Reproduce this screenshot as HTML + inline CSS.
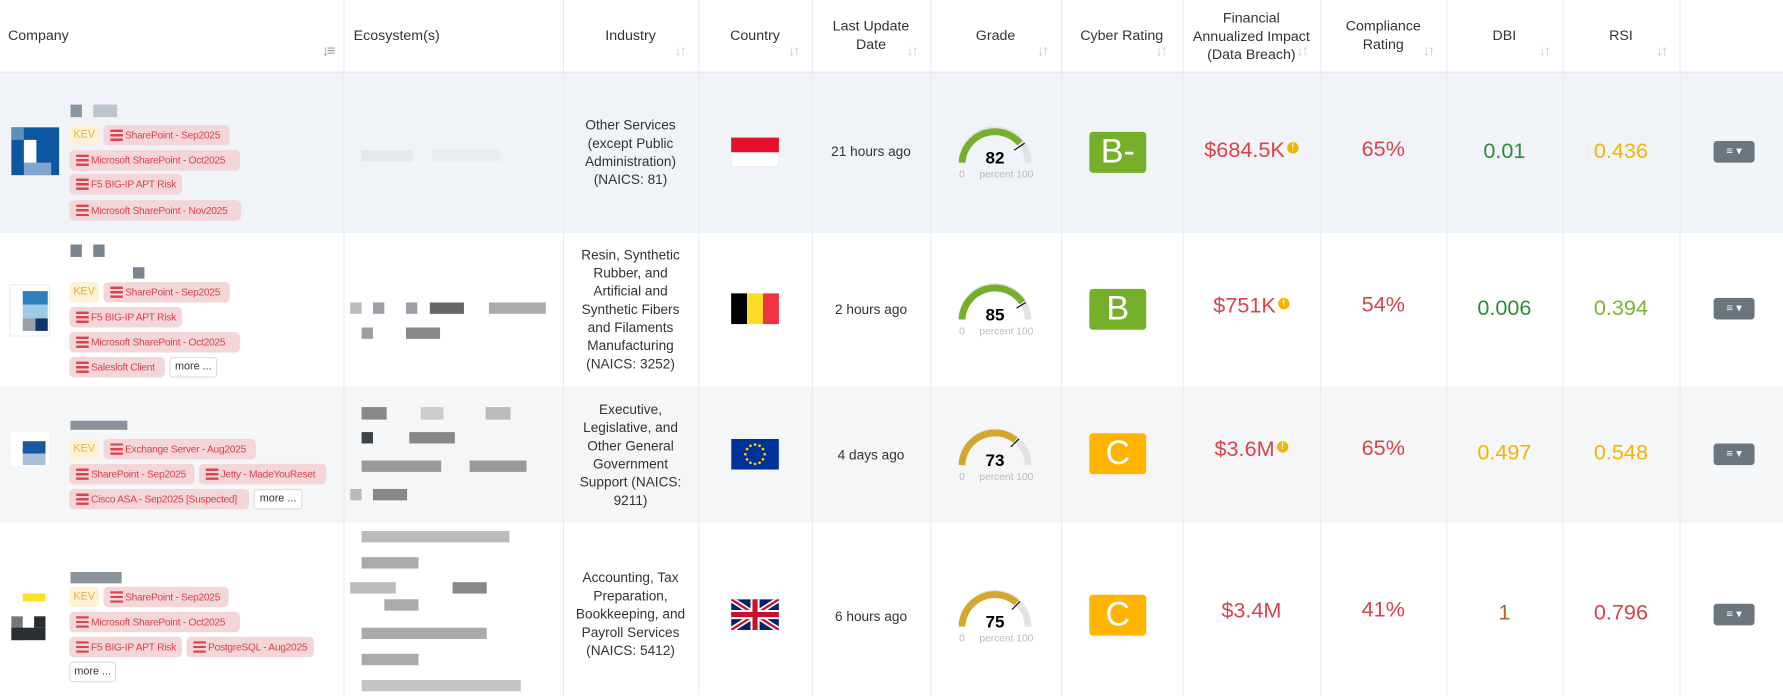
<!DOCTYPE html>
<html><head><meta charset="utf-8"><style>
*{margin:0;padding:0;box-sizing:border-box}
html,body{width:1783px;height:695px;overflow:hidden;background:#fff;font-family:"Liberation Sans",sans-serif}
#w{position:absolute;left:0;top:0;width:1568px;height:612px;transform:scale(1.1371);transform-origin:0 0}
.a{position:absolute}
.row{position:absolute;left:0;width:1568px}
.vl{position:absolute;top:0;width:1px;height:612px;background:#e9ecef}
.h{position:absolute;font-size:12.5px;color:#333;text-align:center;line-height:16px}
.s{position:absolute;font-size:13px;color:#ccc;letter-spacing:-2px}
.t{position:absolute;height:18px;line-height:18px;font-size:9px;letter-spacing:-0.25px;color:#d9434b;background:#f3d6d8;border-radius:4px;padding-left:19px;white-space:nowrap;overflow:hidden}
.t:before{content:"";position:absolute;left:6px;top:4px;width:11px;height:10px;background:linear-gradient(#d9434b 0 2px,transparent 2px 4px,#d9434b 4px 6px,transparent 6px 8px,#d9434b 8px 10px)}
.k{position:absolute;height:18px;line-height:18px;font-size:9.5px;color:#e3b34a;background:#fdf1d6;border-radius:4px;width:26px;text-align:center}
.m{position:absolute;height:18px;line-height:16px;font-size:9.5px;color:#333;background:#fff;border:1px solid #ddd;border-radius:3px;text-align:center}
.c{position:absolute;text-align:center;font-size:12px;color:#333;line-height:16px}
.v{position:absolute;text-align:center;font-size:19px;line-height:22px}
.g{position:absolute;width:50px;height:36px;border-radius:3px;color:#fff;font-size:30px;line-height:36px;text-align:center}
.btn{position:absolute;left:1507px;width:36px;height:19px;background:#6c757d;border-radius:3px;color:#fff;font-size:10px;line-height:19px;text-align:center}
.px{position:absolute;background:#9aa0a6}
.ex{display:inline-block;width:10px;height:10px;border-radius:50%;background:#f5b400;color:#fff;font-size:8px;line-height:10px;text-align:center;vertical-align:6px;font-weight:bold;margin-left:2px}
</style></head><body><div id="w">
<div class="row" style="top:63px;height:142px;background:#f0f3f7"></div>
<div class="row" style="top:340px;height:120px;background:#f4f6f8"></div>
<div class="row" style="top:63px;height:1px;background:#e5e8eb"></div>
<div class="vl" style="left:302px"></div><div class="vl" style="left:495px"></div><div class="vl" style="left:614px"></div><div class="vl" style="left:714px"></div><div class="vl" style="left:818px"></div><div class="vl" style="left:933px"></div><div class="vl" style="left:1040px"></div><div class="vl" style="left:1161px"></div><div class="vl" style="left:1272px"></div><div class="vl" style="left:1374px"></div><div class="vl" style="left:1477px"></div>

<div class="h" style="left:7px;top:23px;text-align:left">Company</div><div class="s" style="left:283px;top:37px;color:#999">↓≡</div>
<div class="h" style="left:311px;top:23px;text-align:left">Ecosystem(s)</div>
<div class="h" style="left:495px;width:119px;top:23px">Industry</div><div class="s" style="left:593px;top:37px">↓↑</div>
<div class="h" style="left:614px;width:100px;top:23px">Country</div><div class="s" style="left:693px;top:37px">↓↑</div>
<div class="h" style="left:714px;width:104px;top:15px">Last Update<br>Date</div><div class="s" style="left:797px;top:37px">↓↑</div>
<div class="h" style="left:818px;width:115px;top:23px">Grade</div><div class="s" style="left:912px;top:37px">↓↑</div>
<div class="h" style="left:933px;width:107px;top:23px">Cyber Rating</div><div class="s" style="left:1016px;top:37px">↓↑</div>
<div class="h" style="left:1040px;width:121px;top:8px">Financial<br>Annualized Impact<br>(Data Breach)</div><div class="s" style="left:1140px;top:37px">↓↑</div>
<div class="h" style="left:1161px;width:111px;top:15px">Compliance<br>Rating</div><div class="s" style="left:1251px;top:37px">↓↑</div>
<div class="h" style="left:1272px;width:102px;top:23px">DBI</div><div class="s" style="left:1353px;top:37px">↓↑</div>
<div class="h" style="left:1374px;width:103px;top:23px">RSI</div><div class="s" style="left:1456px;top:37px">↓↑</div>

<!-- row1 -->
<div class="px" style="left:62px;top:92px;width:10px;height:11px;background:#8a97a3"></div><div class="px" style="left:82px;top:92px;width:21px;height:11px;background:#bcc4cc"></div>
<div class="a" style="left:10px;top:112px;width:42px;height:42px;background:#0b58a0"></div><div class="a" style="left:21px;top:123px;width:11px;height:22px;background:#fff"></div><div class="a" style="left:10px;top:112px;width:11px;height:11px;background:#5d8fbf"></div><div class="a" style="left:21px;top:143px;width:24px;height:11px;background:#7fa6cf"></div>
<div class="k" style="left:61px;top:110px">KEV</div><div class="t" style="left:91px;top:110px;width:111px">SharePoint - Sep2025</div>
<div class="t" style="left:61px;top:132px;width:150px">Microsoft SharePoint - Oct2025</div>
<div class="t" style="left:61px;top:153px;width:99px">F5 BIG-IP APT Risk</div>
<div class="t" style="left:61px;top:176px;width:151px">Microsoft SharePoint - Nov2025</div>
<div class="px" style="left:318px;top:132px;width:45px;height:10px;background:#e6e8eb"></div><div class="px" style="left:380px;top:132px;width:60px;height:10px;background:#eaecee"></div>
<div class="c" style="left:495px;width:119px;top:102px">Other Services<br>(except Public<br>Administration)<br>(NAICS: 81)</div>
<div class="a" style="left:643px;top:121px;width:42px;height:13px;background:#e8112d"></div><div class="a" style="left:643px;top:134px;width:42px;height:13px;background:#fff;border:1px solid #eee"></div>
<div class="c" style="left:714px;width:104px;top:125px">21 hours ago</div>
<svg class="a" style="left:840px;top:110px" width="70" height="50"><path d="M6 33 A29 29 0 0 1 64 33" fill="none" stroke="#e3e3e3" stroke-width="6"/><path d="M6 33 A29 29 0 0 1 57 16" fill="none" stroke="#76b02a" stroke-width="6"/><line x1="52" y1="22" x2="61" y2="16" stroke="#000"/><text x="35" y="34" text-anchor="middle" font-size="15" font-weight="bold" font-family="Liberation Sans">82</text><text x="6" y="46" font-size="9" fill="#bbb" font-family="Liberation Sans" text-anchor="middle">0</text><text x="45" y="46" font-size="9" fill="#bbb" font-family="Liberation Sans" text-anchor="middle">percent 100</text></svg>
<div class="g" style="left:958px;top:116px;background:#76b02a">B-</div>
<div class="v" style="left:1040px;width:121px;top:122px;color:#d9434b">$684.5K<span class="ex">!</span></div>
<div class="v" style="left:1161px;width:111px;top:121px;color:#d9434b">65%</div>
<div class="v" style="left:1272px;width:102px;top:123px;color:#2e8b3a">0.01</div>
<div class="v" style="left:1374px;width:103px;top:123px;color:#f5b400">0.436</div>
<div class="btn" style="top:124px">≡ ▾</div>

<!-- row2 -->
<div class="px" style="left:62px;top:215px;width:10px;height:11px;background:#7a8590"></div><div class="px" style="left:82px;top:215px;width:10px;height:11px;background:#7a8590"></div><div class="px" style="left:117px;top:235px;width:10px;height:10px;background:#7a8590"></div>
<div class="a" style="left:8px;top:250px;width:36px;height:46px;border:1px solid #eee"></div><div class="a" style="left:20px;top:256px;width:22px;height:12px;background:#2f7fbf"></div><div class="a" style="left:20px;top:268px;width:22px;height:12px;background:#9ccbe3"></div><div class="a" style="left:31px;top:280px;width:11px;height:11px;background:#0b3666"></div><div class="a" style="left:20px;top:280px;width:11px;height:11px;background:#9aa0a6"></div>
<div class="k" style="left:61px;top:248px">KEV</div><div class="t" style="left:91px;top:248px;width:111px">SharePoint - Sep2025</div>
<div class="t" style="left:61px;top:270px;width:99px">F5 BIG-IP APT Risk</div>
<div class="t" style="left:61px;top:292px;width:150px">Microsoft SharePoint - Oct2025</div>
<div class="t" style="left:61px;top:314px;width:84px">Salesloft Client</div><div class="m" style="left:149px;top:314px;width:42px">more ...</div>
<div class="px" style="left:308px;top:266px;width:10px;height:10px;background:#bbb"></div><div class="px" style="left:328px;top:266px;width:10px;height:10px"></div><div class="px" style="left:357px;top:266px;width:10px;height:10px"></div><div class="px" style="left:378px;top:266px;width:30px;height:10px;background:#666"></div><div class="px" style="left:430px;top:266px;width:50px;height:10px;background:#aaa"></div><div class="px" style="left:318px;top:288px;width:10px;height:10px"></div><div class="px" style="left:357px;top:288px;width:30px;height:10px;background:#888"></div>
<div class="c" style="left:495px;width:119px;top:216px">Resin, Synthetic<br>Rubber, and<br>Artificial and<br>Synthetic Fibers<br>and Filaments<br>Manufacturing<br>(NAICS: 3252)</div>
<div class="a" style="left:643px;top:258px;width:14px;height:27px;background:#000"></div><div class="a" style="left:657px;top:258px;width:14px;height:27px;background:#fdda24"></div><div class="a" style="left:671px;top:258px;width:14px;height:27px;background:#ef3340"></div>
<div class="c" style="left:714px;width:104px;top:264px">2 hours ago</div>
<svg class="a" style="left:840px;top:248px" width="70" height="50"><path d="M6 33 A29 29 0 0 1 64 33" fill="none" stroke="#e3e3e3" stroke-width="6"/><path d="M6 33 A29 29 0 0 1 59 18" fill="none" stroke="#76b02a" stroke-width="6"/><line x1="54" y1="23" x2="62" y2="18" stroke="#000"/><text x="35" y="34" text-anchor="middle" font-size="15" font-weight="bold" font-family="Liberation Sans">85</text><text x="6" y="46" font-size="9" fill="#bbb" text-anchor="middle" font-family="Liberation Sans">0</text><text x="45" y="46" font-size="9" fill="#bbb" text-anchor="middle" font-family="Liberation Sans">percent 100</text></svg>
<div class="g" style="left:958px;top:254px;background:#76b02a">B</div>
<div class="v" style="left:1040px;width:121px;top:259px;color:#d9434b">$751K<span class="ex">!</span></div>
<div class="v" style="left:1161px;width:111px;top:258px;color:#d9434b">54%</div>
<div class="v" style="left:1272px;width:102px;top:261px;color:#2e8b3a">0.006</div>
<div class="v" style="left:1374px;width:103px;top:261px;color:#79b530">0.394</div>
<div class="btn" style="top:262px">≡ ▾</div>

<!-- row3 -->
<div class="px" style="left:62px;top:370px;width:50px;height:8px;background:#8a939c"></div>
<div class="a" style="left:10px;top:380px;width:33px;height:30px;background:#fff"></div><div class="a" style="left:20px;top:388px;width:20px;height:11px;background:#16599e"></div><div class="a" style="left:20px;top:399px;width:20px;height:10px;background:#a9bfd9"></div>
<div class="k" style="left:61px;top:386px">KEV</div><div class="t" style="left:91px;top:386px;width:134px">Exchange Server - Aug2025</div>
<div class="t" style="left:61px;top:408px;width:110px">SharePoint - Sep2025</div><div class="t" style="left:175px;top:408px;width:112px">Jetty - MadeYouReset</div>
<div class="t" style="left:61px;top:430px;width:158px">Cisco ASA - Sep2025 [Suspected]</div><div class="m" style="left:223px;top:430px;width:43px">more ...</div>
<div class="px" style="left:318px;top:358px;width:22px;height:11px;background:#888"></div><div class="px" style="left:370px;top:358px;width:20px;height:11px;background:#ccc"></div><div class="px" style="left:427px;top:358px;width:22px;height:11px;background:#bbb"></div><div class="px" style="left:318px;top:380px;width:10px;height:10px;background:#3d4249"></div><div class="px" style="left:360px;top:380px;width:40px;height:10px;background:#888"></div><div class="px" style="left:318px;top:405px;width:70px;height:10px;background:#999"></div><div class="px" style="left:413px;top:405px;width:50px;height:10px;background:#999"></div><div class="px" style="left:308px;top:430px;width:10px;height:10px;background:#bbb"></div><div class="px" style="left:328px;top:430px;width:30px;height:10px;background:#888"></div>
<div class="c" style="left:495px;width:119px;top:352px">Executive,<br>Legislative, and<br>Other General<br>Government<br>Support (NAICS:<br>9211)</div>
<svg class="a" style="left:643px;top:386px" width="42" height="27"><rect width="42" height="27" fill="#039"/><g fill="#fc0"><circle cx="21" cy="5" r="1.2"/><circle cx="21" cy="22" r="1.2"/><circle cx="12.5" cy="13.5" r="1.2"/><circle cx="29.5" cy="13.5" r="1.2"/><circle cx="25" cy="6" r="1.2"/><circle cx="17" cy="6" r="1.2"/><circle cx="25" cy="21" r="1.2"/><circle cx="17" cy="21" r="1.2"/><circle cx="14" cy="9" r="1.2"/><circle cx="28" cy="9" r="1.2"/><circle cx="14" cy="18" r="1.2"/><circle cx="28" cy="18" r="1.2"/></g></svg>
<div class="c" style="left:714px;width:104px;top:392px">4 days ago</div>
<svg class="a" style="left:840px;top:376px" width="70" height="50"><path d="M6 33 A29 29 0 0 1 64 33" fill="none" stroke="#e3e3e3" stroke-width="6"/><path d="M6 33 A29 29 0 0 1 53 11" fill="none" stroke="#d4a72c" stroke-width="6"/><line x1="49" y1="17" x2="56" y2="10" stroke="#000"/><text x="35" y="34" text-anchor="middle" font-size="15" font-weight="bold" font-family="Liberation Sans">73</text><text x="6" y="46" font-size="9" fill="#bbb" text-anchor="middle" font-family="Liberation Sans">0</text><text x="45" y="46" font-size="9" fill="#bbb" text-anchor="middle" font-family="Liberation Sans">percent 100</text></svg>
<div class="g" style="left:958px;top:381px;background:#ffb400">C</div>
<div class="v" style="left:1040px;width:121px;top:385px;color:#d9434b">$3.6M<span class="ex">!</span></div>
<div class="v" style="left:1161px;width:111px;top:384px;color:#d9434b">65%</div>
<div class="v" style="left:1272px;width:102px;top:388px;color:#f5b400">0.497</div>
<div class="v" style="left:1374px;width:103px;top:388px;color:#f5b400">0.548</div>
<div class="btn" style="top:390px">≡ ▾</div>

<!-- row4 -->
<div class="px" style="left:62px;top:503px;width:45px;height:10px;background:#8a939c"></div>
<div class="a" style="left:20px;top:522px;width:20px;height:7px;background:#fbe122"></div><div class="a" style="left:10px;top:542px;width:10px;height:21px;background:#777"></div><div class="a" style="left:10px;top:552px;width:30px;height:11px;background:#2a2d31"></div><div class="a" style="left:30px;top:542px;width:10px;height:10px;background:#2a2d31"></div>
<div class="k" style="left:61px;top:516px">KEV</div><div class="t" style="left:91px;top:516px;width:110px">SharePoint - Sep2025</div>
<div class="t" style="left:61px;top:538px;width:150px">Microsoft SharePoint - Oct2025</div>
<div class="t" style="left:61px;top:560px;width:99px">F5 BIG-IP APT Risk</div><div class="t" style="left:164px;top:560px;width:112px">PostgreSQL - Aug2025</div>
<div class="m" style="left:61px;top:582px;width:41px">more ...</div>
<div class="px" style="left:318px;top:467px;width:130px;height:10px;background:#bbb"></div><div class="px" style="left:318px;top:490px;width:50px;height:10px;background:#aaa"></div><div class="px" style="left:308px;top:512px;width:40px;height:10px;background:#bbb"></div><div class="px" style="left:398px;top:512px;width:30px;height:10px;background:#888"></div><div class="px" style="left:338px;top:527px;width:30px;height:10px;background:#aaa"></div><div class="px" style="left:318px;top:552px;width:110px;height:10px;background:#aaa"></div><div class="px" style="left:318px;top:575px;width:50px;height:10px;background:#aaa"></div><div class="px" style="left:318px;top:598px;width:140px;height:10px;background:#c4c4c4"></div>
<div class="c" style="left:495px;width:119px;top:500px">Accounting, Tax<br>Preparation,<br>Bookkeeping, and<br>Payroll Services<br>(NAICS: 5412)</div>
<svg class="a" style="left:643px;top:527px" width="42" height="27"><rect width="42" height="27" fill="#012169"/><path d="M0 0L42 27M42 0L0 27" stroke="#fff" stroke-width="5"/><path d="M0 0L42 27M42 0L0 27" stroke="#c8102e" stroke-width="2"/><path d="M21 0V27M0 13.5H42" stroke="#fff" stroke-width="8"/><path d="M21 0V27M0 13.5H42" stroke="#c8102e" stroke-width="4.5"/></svg>
<div class="c" style="left:714px;width:104px;top:534px">6 hours ago</div>
<svg class="a" style="left:840px;top:518px" width="70" height="50"><path d="M6 33 A29 29 0 0 1 64 33" fill="none" stroke="#e3e3e3" stroke-width="6"/><path d="M6 33 A29 29 0 0 1 54 12" fill="none" stroke="#d4a72c" stroke-width="6"/><line x1="50" y1="18" x2="57" y2="11" stroke="#000"/><text x="35" y="34" text-anchor="middle" font-size="15" font-weight="bold" font-family="Liberation Sans">75</text><text x="6" y="46" font-size="9" fill="#bbb" text-anchor="middle" font-family="Liberation Sans">0</text><text x="45" y="46" font-size="9" fill="#bbb" text-anchor="middle" font-family="Liberation Sans">percent 100</text></svg>
<div class="g" style="left:958px;top:523px;background:#ffb400">C</div>
<div class="v" style="left:1040px;width:121px;top:527px;color:#d9434b">$3.4M</div>
<div class="v" style="left:1161px;width:111px;top:526px;color:#d9434b">41%</div>
<div class="v" style="left:1272px;width:102px;top:529px;color:#b5651d">1</div>
<div class="v" style="left:1374px;width:103px;top:529px;color:#d9434b">0.796</div>
<div class="btn" style="top:531px">≡ ▾</div>
</div></body></html>
